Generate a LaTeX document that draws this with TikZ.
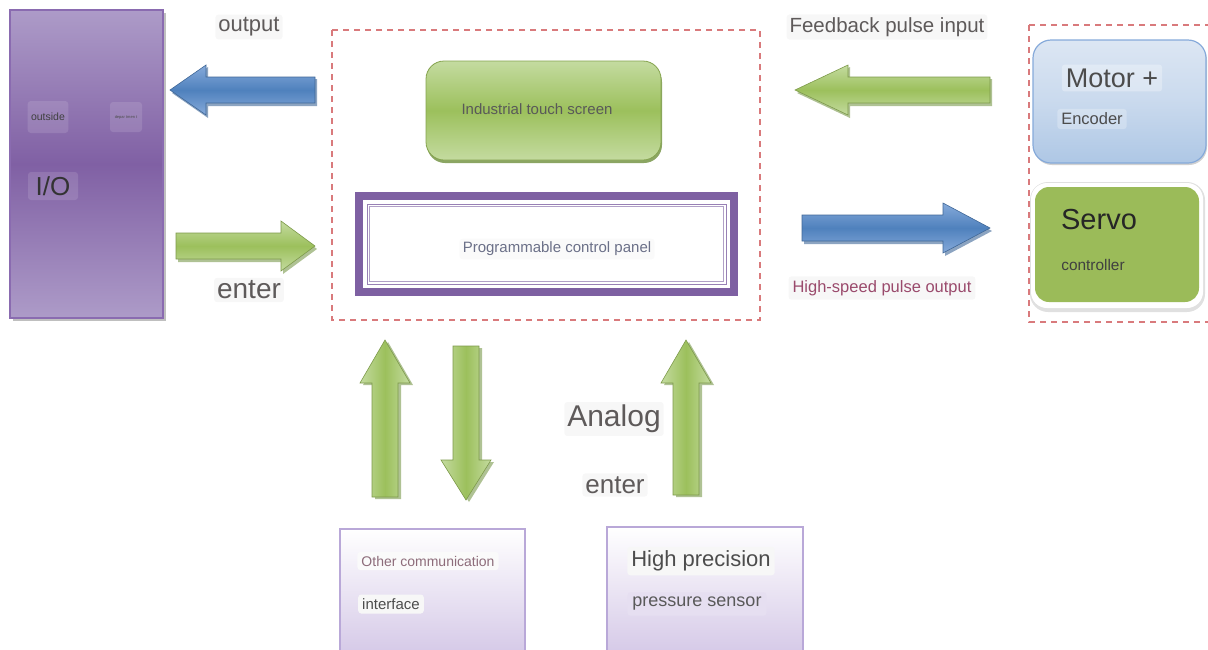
\documentclass[tikz,border=0pt]{standalone}
\usepackage{fontspec}
\setmainfont{Liberation Sans}
\usetikzlibrary{shadows}
\definecolor{dashred}{HTML}{D97A7C}
\definecolor{txtgrey}{HTML}{5E5A5A}
\definecolor{iopurple}{HTML}{AD9BC8}
\definecolor{iodark}{HTML}{8060A4}
\definecolor{ioborder}{HTML}{8A6BB0}
\definecolor{grlight}{HTML}{C4DBA0}
\definecolor{grmid}{HTML}{9CC05C}
\definecolor{grdark}{HTML}{6E8F3C}
\definecolor{bllight}{HTML}{86AADA}
\definecolor{blmid}{HTML}{4F81BD}
\definecolor{bldark}{HTML}{2E5A8E}
\definecolor{panelpurple}{HTML}{7E60A2}
\definecolor{servogreen}{HTML}{9BBB59}
\definecolor{lavborder}{HTML}{B9A8D8}
\definecolor{lavfill}{HTML}{D6CAE8}
\definecolor{maroon}{HTML}{9A4A6C}
\definecolor{slate}{HTML}{6B7088}
\definecolor{motortop}{HTML}{DCE6F3}
\definecolor{motorbot}{HTML}{AEC7E5}
\newcommand\hbarrow[5]{% tailx, tipx, cy, headx, colourname
  \fill[#5dark,opacity=.55] (#1+2,#3-11) -- (#4+2,#3-11) -- (#4+2,#3-23) -- (#2+2,#3+3) -- (#4+2,#3+28) -- (#4+2,#3+16) -- (#1+2,#3+16) -- cycle;
  \shade[top color=#5light,bottom color=#5light,middle color=#5mid,draw=#5mid!80!black,line width=.6pt]
    (#1,#3-13) -- (#4,#3-13) -- (#4,#3-25) -- (#2,#3) -- (#4,#3+25) -- (#4,#3+13) -- (#1,#3+13) -- cycle;
}
\newcommand\vbarrow[5]{% tail y, tip y, cx, head y, colourname
  \fill[#5dark,opacity=.55] (#3-10,#1+2) -- (#3-10,#4+2) -- (#3-22,#4+2) -- (#3+3,#2+2) -- (#3+28,#4+2) -- (#3+16,#4+2) -- (#3+16,#1+2) -- cycle;
  \shade[left color=#5light,right color=#5light,middle color=#5mid,draw=#5mid!80!black,line width=.6pt]
    (#3-13,#1) -- (#3-13,#4) -- (#3-25,#4) -- (#3,#2) -- (#3+25,#4) -- (#3+13,#4) -- (#3+13,#1) -- cycle;
}
\tikzset{
  lbl/.style={font=\fontsize{#1}{#1}\selectfont, text=txtgrey, fill=black!3, rounded corners=3pt, inner sep=3pt},
  lbl/.default=20,
  dashbox/.style={draw=dashred, dash pattern=on 6pt off 5pt, line width=1.1pt},
}
\begin{document}
\begin{tikzpicture}[x=1pt,y=-1pt]
\useasboundingbox (0,0) rectangle (1208,649);
% I/O box
\fill[black!25] (13,13) rectangle (166,321);
\shade[top color=iopurple,bottom color=iopurple,middle color=iodark,draw=ioborder,line width=1.2pt] (10,10) rectangle (163,318);
\node[font=\fontsize{10.5}{10.5}\selectfont, text=black!75, fill=white, fill opacity=.12, text opacity=1, rounded corners=3pt, minimum width=36, minimum height=32] (outside) at (48,117) {outside};
\node[font=\fontsize{4}{4}\selectfont, text=black!70, fill=white, fill opacity=.12, text opacity=1, rounded corners=3pt, minimum width=32, minimum height=30] (dept) at (126,117) {depar tmen t};
\node[font=\fontsize{26}{26}\selectfont, text=black!80, fill=white, fill opacity=.12, text opacity=1, rounded corners=3pt, minimum width=50, minimum height=28] (io) at (53,186) {I/O};
% labels left
\node[lbl=22] (output) at (249,27) {output};
\node[lbl=28] (enter1) at (249,290) {enter};
% arrows left
\hbarrow{315}{170}{90}{206}{bl}
\hbarrow{176}{315}{246}{281}{gr}
% central dashed box
\draw[dashbox] (332,30) rectangle (760,320);
\shade[top color=grlight,bottom color=grlight,middle color=grmid,draw=grmid!85!black,line width=.8pt,rounded corners=18pt,drop shadow={shadow xshift=1pt,shadow yshift=-3pt,fill=grdark,opacity=.8}] (426,61) rectangle (661,160);
\node[font=\fontsize{15}{15}\selectfont, text=black!65] (touch) at (537,109) {Industrial touch screen};
\draw[panelpurple,line width=8pt] (359,196) rectangle (734,292);
\draw[panelpurple!80,line width=1pt] (367,204) rectangle (726,284);
\draw[panelpurple!60,line width=.6pt] (369.5,206.5) rectangle (723.5,281.5);
\node[font=\fontsize{15}{15}\selectfont, text=slate, fill=black!2, rounded corners=3pt] (panel) at (557,249) {Programmable control panel};
% right side
\node[lbl=20.5] (feedback) at (887,27) {Feedback pulse input};
\hbarrow{990}{795}{90}{848}{gr}
\hbarrow{802}{990}{228}{943}{bl}
\node[font=\fontsize{16.5}{16.5}\selectfont, text=maroon, fill=black!3, rounded corners=3pt, inner sep=4pt] (hspo) at (882,288) {High-speed pulse output};
\draw[dashbox] (1029,25) -- (1029,322) -- (1212,322);
\draw[dashbox] (1029,25) -- (1212,25);
\shade[top color=motortop, bottom color=motorbot, middle color=motortop!60!motorbot, draw=bllight, line width=1.2pt, rounded corners=18pt, drop shadow={shadow xshift=1pt,shadow yshift=-2pt,fill=black!30,opacity=.6}] (1033,40) rectangle (1206,163);
\node[font=\fontsize{27}{27}\selectfont, text=black!70, fill=white, fill opacity=.3, text opacity=1, rounded corners=3pt, inner sep=4pt] (motor) at (1112,78) {Motor +};
\node[font=\fontsize{16.5}{16.5}\selectfont, text=black!70, fill=white, fill opacity=.25, text opacity=1, rounded corners=3pt, inner sep=4pt] (encoder) at (1092,119) {Encoder};
\fill[black!12, rounded corners=18pt] (1030,182) rectangle (1205,312);
\fill[white, rounded corners=16pt] (1031,183) rectangle (1203,308);
\fill[servogreen, rounded corners=14pt] (1035,187) rectangle (1199,302);
\node[font=\fontsize{29}{29}\selectfont, text=black!85] (servo) at (1099,220) {Servo};
\node[font=\fontsize{15.4}{15.4}\selectfont, text=black!75] (ctrl) at (1093,265) {controller};
% vertical arrows
\vbarrow{497}{340}{385}{383}{gr}
\vbarrow{346}{500}{466}{460}{gr}
\vbarrow{495}{340}{686}{383}{gr}
\node[lbl=30] (analog) at (614,419) {Analog};
\node[lbl=26] (enter2) at (615,485) {enter};
% bottom boxes
\shade[top color=white, bottom color=lavfill, draw=lavborder, line width=1.2pt] (340,529) rectangle (525,652);
\node[font=\fontsize{14}{14}\selectfont, text=maroon!60!black!70, fill=black!2, rounded corners=3pt, inner sep=4pt] (othercomm) at (428,561) {Other communication};
\node[font=\fontsize{15}{15}\selectfont, text=black!70, fill=black!3, rounded corners=3pt, inner sep=4pt] (iface) at (391,604) {interface};
\shade[top color=white, bottom color=lavfill, draw=lavborder, line width=1.2pt] (607,527) rectangle (803,652);
\node[font=\fontsize{22}{22}\selectfont, text=black!70, fill=black!3, rounded corners=3pt, inner sep=4pt] (hp) at (701,561) {High precision};
\node[font=\fontsize{18}{18}\selectfont, text=black!65, fill=lavfill!60, rounded corners=3pt, inner sep=5pt] (ps) at (697,604) {pressure sensor};
\end{tikzpicture}
\end{document}
